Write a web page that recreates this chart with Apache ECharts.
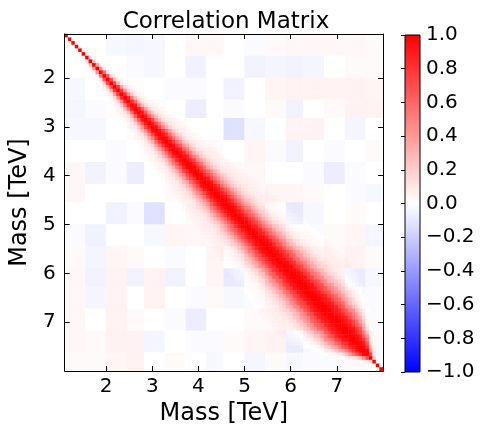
<!DOCTYPE html>
<html><head><meta charset="utf-8">
<script src="https://cdn.jsdelivr.net/npm/echarts@6/dist/echarts.min.js"></script>
<style>html,body{margin:0;padding:0;background:#fff}#c{width:487px;height:431px}</style>
</head><body><div id="c"></div>
<script>
// ---- data ----
const massMin = 1.1, massMax = 8.0, nBins = 92;     // mass axis range (TeV) and bin count
const axisTicks = [2, 3, 4, 5, 6, 7];               // tick labels on both mass axes
const colorTicks = [-1.0, -0.8, -0.6, -0.4, -0.2, 0.0, 0.2, 0.4, 0.6, 0.8, 1.0];
// half-width (in bins) of the diagonal band where correlation = 0.5, one per bin
const bandWidth = [
 0.3,0.3,0.3,0.35,0.4,0.45,0.55,0.65,0.8,0.9,1.0,1.15,1.3,1.4,1.55,1.65,1.8,1.9,2.0,2.15,
 2.3,2.4,2.55,2.65,2.75,2.85,3.0,3.1,3.25,3.35,3.5,3.6,3.7,3.8,3.95,4.05,4.15,4.25,4.35,4.4,
 4.5,4.55,4.65,4.7,4.8,4.85,4.95,5.0,5.1,5.15,5.25,5.3,5.4,5.5,5.6,5.7,5.8,5.9,6.0,6.1,
 6.2,6.3,6.4,6.5,6.6,6.7,6.8,6.85,6.95,7.0,7.1,7.15,7.25,7.3,7.4,7.45,7.5,7.55,7.6,7.6,
 7.5,7.3,7.0,6.5,5.8,4.8,3.6,2.3,1.0,0.4,0.3,0.3
];
// correlation across the band, at distance/halfWidth = 0, 0.1, 0.2, ... 3.0
const bandProfile = [
 1.00,0.99,0.97,0.94,0.90,0.84,0.78,0.71,0.64,0.57,0.50,0.43,0.37,0.31,0.26,0.21,
 0.17,0.14,0.11,0.09,0.075,0.065,0.055,0.05,0.045,0.04,0.035,0.03,0.025,0.02,0.015
];
// faint off-diagonal correlation, 16x16 blocks, upper triangle (row r holds columns r..15)
const bgBlocks = [
 [0, 0.0,-0.03,-0.04,-0.03, 0.0, 0.03, 0.03, 0.0,-0.02, 0.02, 0.03, 0.03, 0.03, 0.03, 0.02],
 [0, 0.0,-0.02,-0.03, 0.0,-0.05, 0.0, 0.0,-0.05,-0.04,-0.05,-0.04, 0.0, 0.02, 0.02],
 [0, 0.01, 0.0,-0.02,-0.02, 0.0,-0.05, 0.0, 0.04, 0.05, 0.05, 0.05, 0.05, 0.04],
 [0, 0.01, 0.0,-0.07, 0.0,-0.02, 0.0, 0.02,-0.05, 0.0, 0.02, 0.05, 0.05],
 [0, 0.01, 0.0, 0.0,-0.12,-0.03, 0.0, 0.05, 0.05, 0.0,-0.04, 0.0],
 [0, 0.01, 0.02, 0.0, 0.04,-0.02,-0.05, 0.0,-0.02, 0.0, 0.02],
 [0, 0.01, 0.02, 0.03, 0.0, 0.0,-0.02,-0.07,-0.02, 0.0],
 [0, 0.01, 0.02, 0.04, 0.04, 0.02, 0.0,-0.02,-0.03],
 [0, 0.01,-0.02,-0.09,-0.03, 0.0, 0.02, 0.0],
 [0, 0.01,-0.03,-0.02, 0.02, 0.04,-0.04],
 [0, 0.01, 0.0, 0.02, 0.05, 0.02],
 [0, 0.01, 0.0,-0.08,-0.03],
 [0, 0.01,-0.03,-0.02],
 [0, 0.01,-0.02],
 [0, 0.02],
 [0]
];

// ---- build the matrix table from the arrays above ----
const binW = (massMax - massMin) / nBins;
const categories = Array.from({length: nBins}, (_, k) => (massMin + binW * (k + 0.5)).toFixed(4));
const nBlocks = bgBlocks.length;
const cells = [];
for (let i = 0; i < nBins; i++) {
  for (let j = 0; j < nBins; j++) {
    const d = Math.abs(i - j);
    const w = Math.sqrt(bandWidth[i] * bandWidth[j]);
    const idx = Math.round(d / w * 10);
    let v = idx < bandProfile.length ? bandProfile[idx] : 0;
    if (i !== j) {
      const bi = Math.floor(i * nBlocks / nBins), bj = Math.floor(j * nBlocks / nBins);
      const a = Math.min(bi, bj), b = Math.max(bi, bj);
      v += bgBlocks[a][b - a];
    }
    v = Math.max(-1, Math.min(1, v));
    cells.push([j, i, v]);
  }
}

const FONT = 'DejaVu Sans';
const chart = echarts.init(document.getElementById('c'), null, {renderer: 'canvas'});
const frameAxis = (extra) => Object.assign({
  type: 'value', gridIndex: 0, min: massMin, max: massMax, z: 10,
  axisLine: {show: true, onZero: false, lineStyle: {color: '#000', width: 1}},
  axisTick: {show: true, inside: true, length: 5, customValues: axisTicks, lineStyle: {color: '#000', width: 1}},
  axisLabel: {show: false},
  splitLine: {show: false}
}, extra);

chart.setOption({
  animation: false,
  backgroundColor: '#ffffff',
  title: {
    text: 'Correlation Matrix', left: 221, top: 6, textAlign: 'center',
    textStyle: {fontFamily: FONT, fontSize: 23, fontWeight: 'normal', color: '#000'}
  },
  grid: [
    {left: 60, top: 34, width: 323, height: 338},
    {left: 405, top: 35, width: 15, height: 337}
  ],
  xAxis: [
    {type: 'category', gridIndex: 0, data: categories, show: false},
    frameAxis({position: 'bottom',
      axisLabel: {show: true, customValues: axisTicks, margin: 6, fontSize: 20, fontFamily: FONT, color: '#000'},
      name: 'Mass [TeV]', nameLocation: 'middle', nameGap: 30,
      nameTextStyle: {fontFamily: FONT, fontSize: 24, color: '#000'}}),
    frameAxis({position: 'top'}),
    {type: 'value', gridIndex: 1, min: 0, max: 1, show: false}
  ],
  yAxis: [
    {type: 'category', gridIndex: 0, data: categories, inverse: true, show: false},
    frameAxis({position: 'left', inverse: true,
      axisLabel: {show: true, customValues: axisTicks, margin: 9, fontSize: 20, fontFamily: FONT, color: '#000'},
      name: 'Mass [TeV]', nameLocation: 'middle', nameGap: 25,
      nameTextStyle: {fontFamily: FONT, fontSize: 24, color: '#000'}}),
    frameAxis({position: 'right', inverse: true}),
    {type: 'value', gridIndex: 1, min: -1, max: 1, interval: 0.2, position: 'right', z: 10,
      axisLine: {show: false},
      axisTick: {show: true, inside: true, length: 4, lineStyle: {color: '#000'}},
      axisLabel: {show: true, margin: 6, fontSize: 20, fontFamily: FONT, color: '#000',
        formatter: v => Math.abs(v) < 1e-9 ? '0.0' : v.toFixed(1).replace('-', '\u2212')},
      splitLine: {show: false}}
  ],
  visualMap: {
    show: false, type: 'continuous', min: -1, max: 1, seriesIndex: 0,
    inRange: {color: ['#0000ff', '#ffffff', '#ff0000']}
  },
  graphic: [{
    type: 'rect', z: 5,
    shape: {x: 405, y: 35, width: 15, height: 337},
    style: {
      fill: new echarts.graphic.LinearGradient(0, 0, 0, 1, [
        {offset: 0, color: '#ff0000'}, {offset: 0.5, color: '#ffffff'}, {offset: 1, color: '#0000ff'}
      ]),
      stroke: '#000', lineWidth: 1
    }
  }],
  series: [{
    type: 'heatmap', xAxisIndex: 0, yAxisIndex: 0, data: cells,
    progressive: 0, emphasis: {disabled: true}, itemStyle: {borderWidth: 0}
  }]
});
</script></body></html>
